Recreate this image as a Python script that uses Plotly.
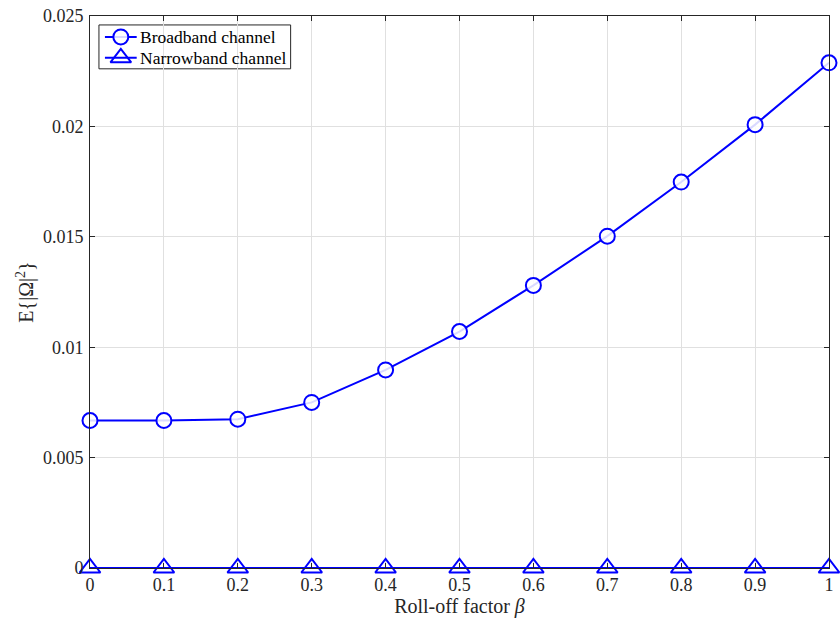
import plotly.graph_objects as go

# Roll-off factor of the pulse-shaping filter
beta = [0, 0.1, 0.2, 0.3, 0.4, 0.5, 0.6, 0.7, 0.8, 0.9, 1.0]
# Mean power of the interference term E{|Omega|^2}
broadband = [0.00668, 0.00668, 0.00674, 0.00750, 0.00897, 0.01071,
             0.01280, 0.01503, 0.01748, 0.02008, 0.02288]
narrowband = [0, 0, 0, 0, 0, 0, 0, 0, 0, 0, 0]

series_names = ["Broadband channel", "Narrowband channel"]
series_symbols = ["circle", "triangle-up-open"]

x_ticks = [0, 0.1, 0.2, 0.3, 0.4, 0.5, 0.6, 0.7, 0.8, 0.9, 1]
x_tick_text = ["0", "0.1", "0.2", "0.3", "0.4", "0.5", "0.6", "0.7", "0.8", "0.9", "1"]
y_ticks = [0, 0.005, 0.01, 0.015, 0.02, 0.025]
y_tick_text = ["0", "0.005", "0.01", "0.015", "0.02", "0.025"]

BLUE = "#0000ff"
AXIS = "#262626"
GRID = "#e0e0e0"
FONT = "Liberation Serif, Times New Roman, serif"
MARKER_FILL = "rgba(255,255,255,0.85)"


def marker_style(symbol):
    if symbol == "circle":
        return dict(symbol=symbol, size=15, color=MARKER_FILL,
                    line=dict(color=BLUE, width=2))
    return dict(symbol=symbol, size=18, color=BLUE,
                line=dict(color=BLUE, width=2))


fig = go.Figure()
for yvals, name, sym in zip([broadband, narrowband], series_names, series_symbols):
    fig.add_trace(go.Scatter(
        x=beta, y=yvals, name=name, showlegend=False,
        mode="lines+markers", cliponaxis=False,
        line=dict(color=BLUE, width=2),
        marker=marker_style(sym),
    ))

# Compact boxed legend in the upper-left corner, drawn on an overlay axis
# spanning the plot area in unit coordinates.
box_x0, box_x1 = 0.0121, 0.2715
box_y0, box_y1 = 0.9043, 0.9838
row_y = [0.9621, 0.9242]
seg_x0, seg_x1, mark_x, text_x = 0.0202, 0.0632, 0.0417, 0.0650

fig.add_shape(type="rect", xref="paper", yref="paper",
              x0=box_x0, x1=box_x1, y0=box_y0, y1=box_y1,
              line=dict(color=AXIS, width=1), fillcolor="white", layer="between")
for ry, name, sym in zip(row_y, series_names, series_symbols):
    fig.add_trace(go.Scatter(
        x=[seg_x0, mark_x, seg_x1], y=[ry, ry, ry], xaxis="x2", yaxis="y2",
        mode="lines", showlegend=False, hoverinfo="skip", cliponaxis=False,
        line=dict(color=BLUE, width=2),
    ))
    fig.add_trace(go.Scatter(
        x=[mark_x], y=[ry], xaxis="x2", yaxis="y2",
        mode="markers", showlegend=False, hoverinfo="skip", cliponaxis=False,
        marker=marker_style(sym),
    ))
    fig.add_annotation(x=text_x, y=ry, xref="paper", yref="paper",
                       text=name, showarrow=False, xanchor="left", yanchor="middle",
                       font=dict(family=FONT, size=17.5, color="black"))

axis_common = dict(
    showline=True, linecolor=AXIS, linewidth=1, mirror="ticks",
    ticks="inside", ticklen=5, tickcolor=AXIS,
    showgrid=True, gridcolor=GRID, gridwidth=1, zeroline=False,
    tickfont=dict(family=FONT, size=18, color=AXIS),
)

fig.update_xaxes(
    range=[0, 1], tickvals=x_ticks, ticktext=x_tick_text,
    title=dict(text="Roll-off factor <i>β</i>", standoff=2,
               font=dict(family=FONT, size=20, color=AXIS)),
    **axis_common,
)
fig.update_yaxes(
    range=[0, 0.025], tickvals=y_ticks, ticktext=y_tick_text,
    ticklabelstandoff=2,
    title=dict(text="E{|Ω|<sup>2</sup>}", standoff=3,
               font=dict(family=FONT, size=20, color=AXIS)),
    **axis_common,
)

fig.update_layout(
    width=840, height=619,
    margin=dict(l=90, r=6, t=14, b=51),
    paper_bgcolor="white", plot_bgcolor="white",
    font=dict(family=FONT, color="black"),
    showlegend=False,
    xaxis2=dict(overlaying="x", range=[0, 1], visible=False, fixedrange=True),
    yaxis2=dict(overlaying="y", range=[0, 1], visible=False, fixedrange=True),
)

fig.write_html("out.html")
